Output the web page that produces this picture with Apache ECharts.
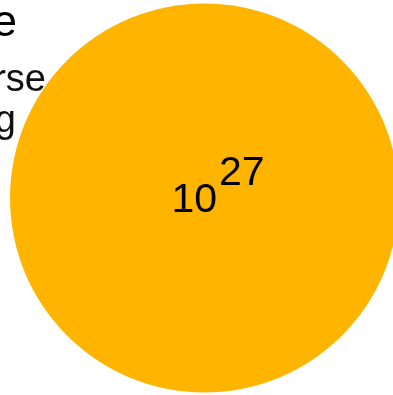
<!DOCTYPE html>
<html>
<head>
<meta charset="utf-8">
<script src="https://cdn.jsdelivr.net/npm/echarts@6/dist/echarts.min.js"></script>
<style>
  html, body { margin: 0; padding: 0; background: #fff; }
  #chart { width: 393px; height: 395px; }
</style>
</head>
<body>
<div id="chart"></div>
<script>
// data
const sliceNames = ['Total']
const sliceValues = [1e27]
const labelBase = '10'
const labelExponent = '27'
const titleText = 'Order of magnitude'
const subtitleLines = ['Estimate for the universe', 'single slice reading']

const FONT = '"Liberation Sans", Arial, sans-serif'

const chart = echarts.init(document.getElementById('chart'))

const option = {
  animation: false,
  graphic: [
    {
      type: 'text',
      right: 376,
      top: 2,
      style: {
        text: titleText,
        font: '44px ' + FONT,
        fill: '#000',
      },
    },
    {
      type: 'text',
      right: 347,
      top: 62,
      style: {
        text: subtitleLines[0],
        font: '38px ' + FONT,
        fill: '#111',
      },
    },
    {
      type: 'text',
      right: 377,
      top: 103,
      style: {
        text: subtitleLines[1],
        font: '38px ' + FONT,
        fill: '#111',
      },
    },
  ],
  series: [
    {
      type: 'pie',
      center: [204.5, 198],
      radius: 194.5,
      silent: true,
      color: ['#ffb400'],
      itemStyle: { borderWidth: 0 },
      data: sliceNames.map((n, i) => ({ name: n, value: sliceValues[i] })),
      labelLine: { show: false },
      label: {
        show: true,
        position: 'center',
        offset: [13.5, -10.5],
        formatter: () => '{b|' + labelBase + '}{e|' + labelExponent + '}',
        rich: {
          b: {
            fontFamily: FONT,
            fontSize: 41,
            color: '#000',
            verticalAlign: 'bottom',
          },
          e: {
            fontFamily: FONT,
            fontSize: 41,
            color: '#000',
            verticalAlign: 'top',
            padding: [0, 0, 27, 2],
          },
        },
      },
      emphasis: { disabled: true },
    },
  ],
}

chart.setOption(option)
</script>
</body>
</html>
